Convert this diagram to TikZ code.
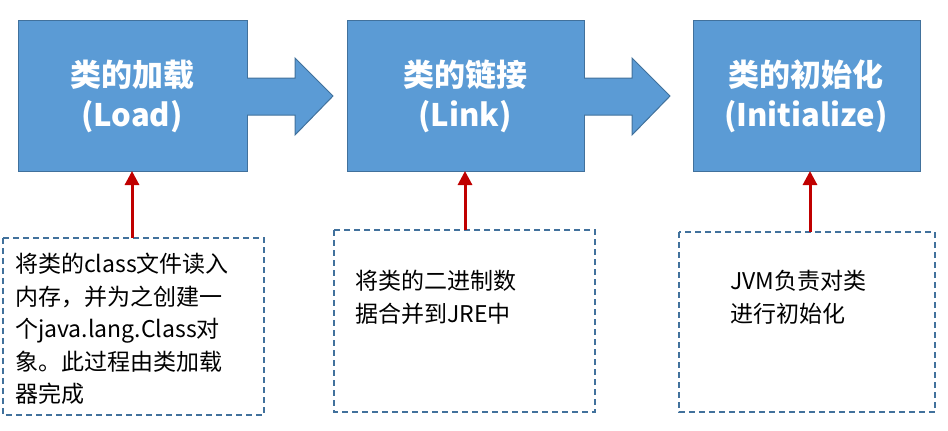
\documentclass[tikz,border=0pt]{standalone}
\usepackage{fontspec}
\usetikzlibrary{arrows.meta}
\setmainfont{Noto Sans CJK SC}
\definecolor{boxblue}{HTML}{5B9BD5}
\definecolor{boxedge}{HTML}{41719C}
\definecolor{redarr}{HTML}{C00000}
\definecolor{dashc}{HTML}{41719C}
\begin{document}
\begin{tikzpicture}[x=1pt,y=-1pt,
  stage/.style={draw=boxedge,fill=boxblue,line width=1pt},
  title/.style={text=white,font=\fontsize{31}{40}\selectfont\bfseries,align=center},
  note/.style={draw=dashc,line width=1.3pt,dash pattern=on 6pt off 4pt},
  notetext/.style={anchor=north west,align=left,font=\fontsize{23}{32.5}\selectfont,text=black,inner sep=0pt},
  redarrow/.style={draw=redarr,line width=3pt,-{Triangle[length=14pt,width=14pt]}}]
\useasboundingbox (0,0) rectangle (948,431);
% stage boxes
\draw[stage] (18,20) rectangle (247,171);
\draw[stage] (347,20) rectangle (584,171);
\draw[stage] (693,20) rectangle (920,171);
% block arrows
\draw[stage] (247,78) -- (295,78) -- (295,58) -- (333,96) -- (295,135) -- (295,115) -- (247,115);
\draw[stage] (584,78) -- (632,78) -- (632,58) -- (670,96) -- (632,135) -- (632,115) -- (584,115);
\node[title] (t1) at (132,96) {类的加载\\(Load)};
\node[title] (t2) at (465,96) {类的链接\\(Link)};
\node[title] (t3) at (806,96) {类的初始化\\(Initialize)};
\coordinate (b1) at (132,171);
\coordinate (b2) at (465,171);
\coordinate (b3) at (810,171);
% notes
\draw[note] (3,238) rectangle (264,415);
\draw[note] (334,230) rectangle (595,412);
\draw[note] (679,232) rectangle (935,412);
\coordinate (n1) at (132,238);
\coordinate (n2) at (465,230);
\coordinate (n3) at (810,232);
\draw[redarrow] (n1) -- (b1);
\draw[redarrow] (n2) -- (b2);
\draw[redarrow] (n3) -- (b3);
\node[notetext] (x1) at (15,253) {将类的class文件读入\\内存，并为之创建一\\个java.lang.Class对\\象。此过程由类加载\\器完成};
\node[notetext] (x2) at (355,270) {将类的二进制数\\据合并到JRE中};
\node[notetext] (x3) at (730,270) {JVM负责对类\\进行初始化};
\end{tikzpicture}
\end{document}
